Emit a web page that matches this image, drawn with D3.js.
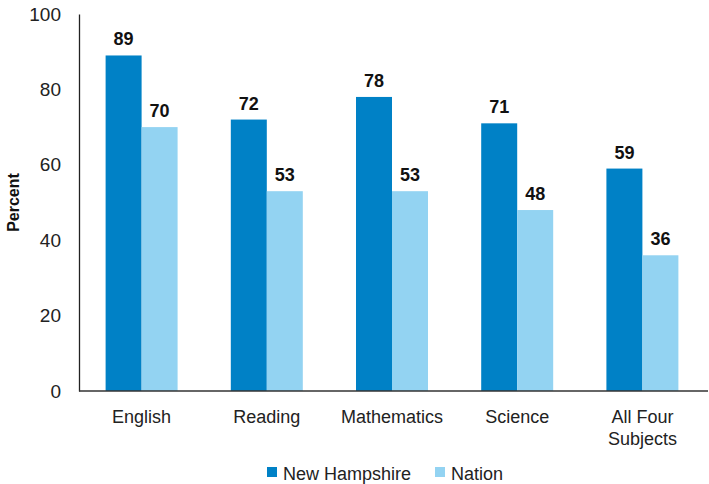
<!DOCTYPE html>
<html><head><meta charset="utf-8">
<script src="https://cdn.jsdelivr.net/npm/d3@7"></script>
<style>body{margin:0;background:#fff}svg{display:block}text{font-family:"Liberation Sans",Arial,Helvetica,sans-serif}</style>
</head><body>
<svg id="c" width="709" height="484"></svg>
<script>
const categories = [["English"],["Reading"],["Mathematics"],["Science"],["All Four","Subjects"]];
const seriesNames = ["New Hampshire","Nation"];
const newHampshire = [89,72,78,71,59];
const nation = [70,53,53,48,36];
const yTicks = [0,20,40,60,80,100];
const colors = ["#0081c6","#93d3f2"];

const svg = d3.select("#c");
const m = {l:79,r:4,t:14,b:93};
const W = 709, H = 484;
const x = d3.scaleBand().domain(d3.range(categories.length)).range([m.l, W-m.r]).paddingInner(0.425).paddingOuter(0.2125);
const xs = d3.scaleBand().domain([0,1]).range([0, x.bandwidth()]);
const y = d3.scaleLinear().domain([0,100]).range([H-m.b, m.t]);

const data = [newHampshire, nation];
data.forEach((vals, si) => {
  svg.append("g").selectAll("rect").data(vals).join("rect")
    .attr("x", (d,i)=>x(i)+xs(si)).attr("width", xs.bandwidth())
    .attr("y", d=>y(d)).attr("height", d=>y(0)-y(d)).attr("fill", colors[si]);
  svg.append("g").selectAll("text").data(vals).join("text")
    .attr("x", (d,i)=>x(i)+xs(si)+xs.bandwidth()/2).attr("y", d=>y(d)-10)
    .attr("text-anchor","middle").attr("font-weight","bold").attr("font-size",18).attr("fill","#111")
    .text(d=>d);
});

// y axis
const ya = svg.append("g").attr("transform",`translate(${m.l},0)`)
  .call(d3.axisLeft(y).tickValues(yTicks).tickSize(0).tickPadding(18));
ya.select(".domain").attr("stroke","#222").attr("stroke-width",1.3);
ya.selectAll("text").attr("font-size",19).attr("fill","#222");

// x axis line
svg.append("line").attr("x1",m.l).attr("x2",W-1).attr("y1",y(0)).attr("y2",y(0)).attr("stroke","#333").attr("stroke-width",1.5);

// category labels
const cl = svg.append("g").selectAll("text").data(categories).join("text")
  .attr("x",(d,i)=>x(i)+x.bandwidth()/2).attr("y", y(0)+32)
  .attr("text-anchor","middle").attr("font-size",18).attr("fill","#222");
cl.selectAll("tspan").data(d=>d).join("tspan")
  .attr("x", function(){return this.parentNode.getAttribute("x");})
  .attr("dy",(d,i)=>i?22:0).text(d=>d);

// y title
svg.append("text").attr("transform",`translate(19,${(y(0)+y(100))/2}) rotate(-90)`)
  .attr("text-anchor","middle").attr("font-weight","bold").attr("font-size",16).attr("fill","#111").text("Percent");

// legend
const lx = [267, 435];
seriesNames.forEach((n,i)=>{
  svg.append("rect").attr("x",lx[i]).attr("y",467).attr("width",10).attr("height",10).attr("fill",colors[i]);
  svg.append("text").attr("x",lx[i]+16).attr("y",480).attr("font-size",18).attr("fill","#222").text(n);
});
</script>
</body></html>
